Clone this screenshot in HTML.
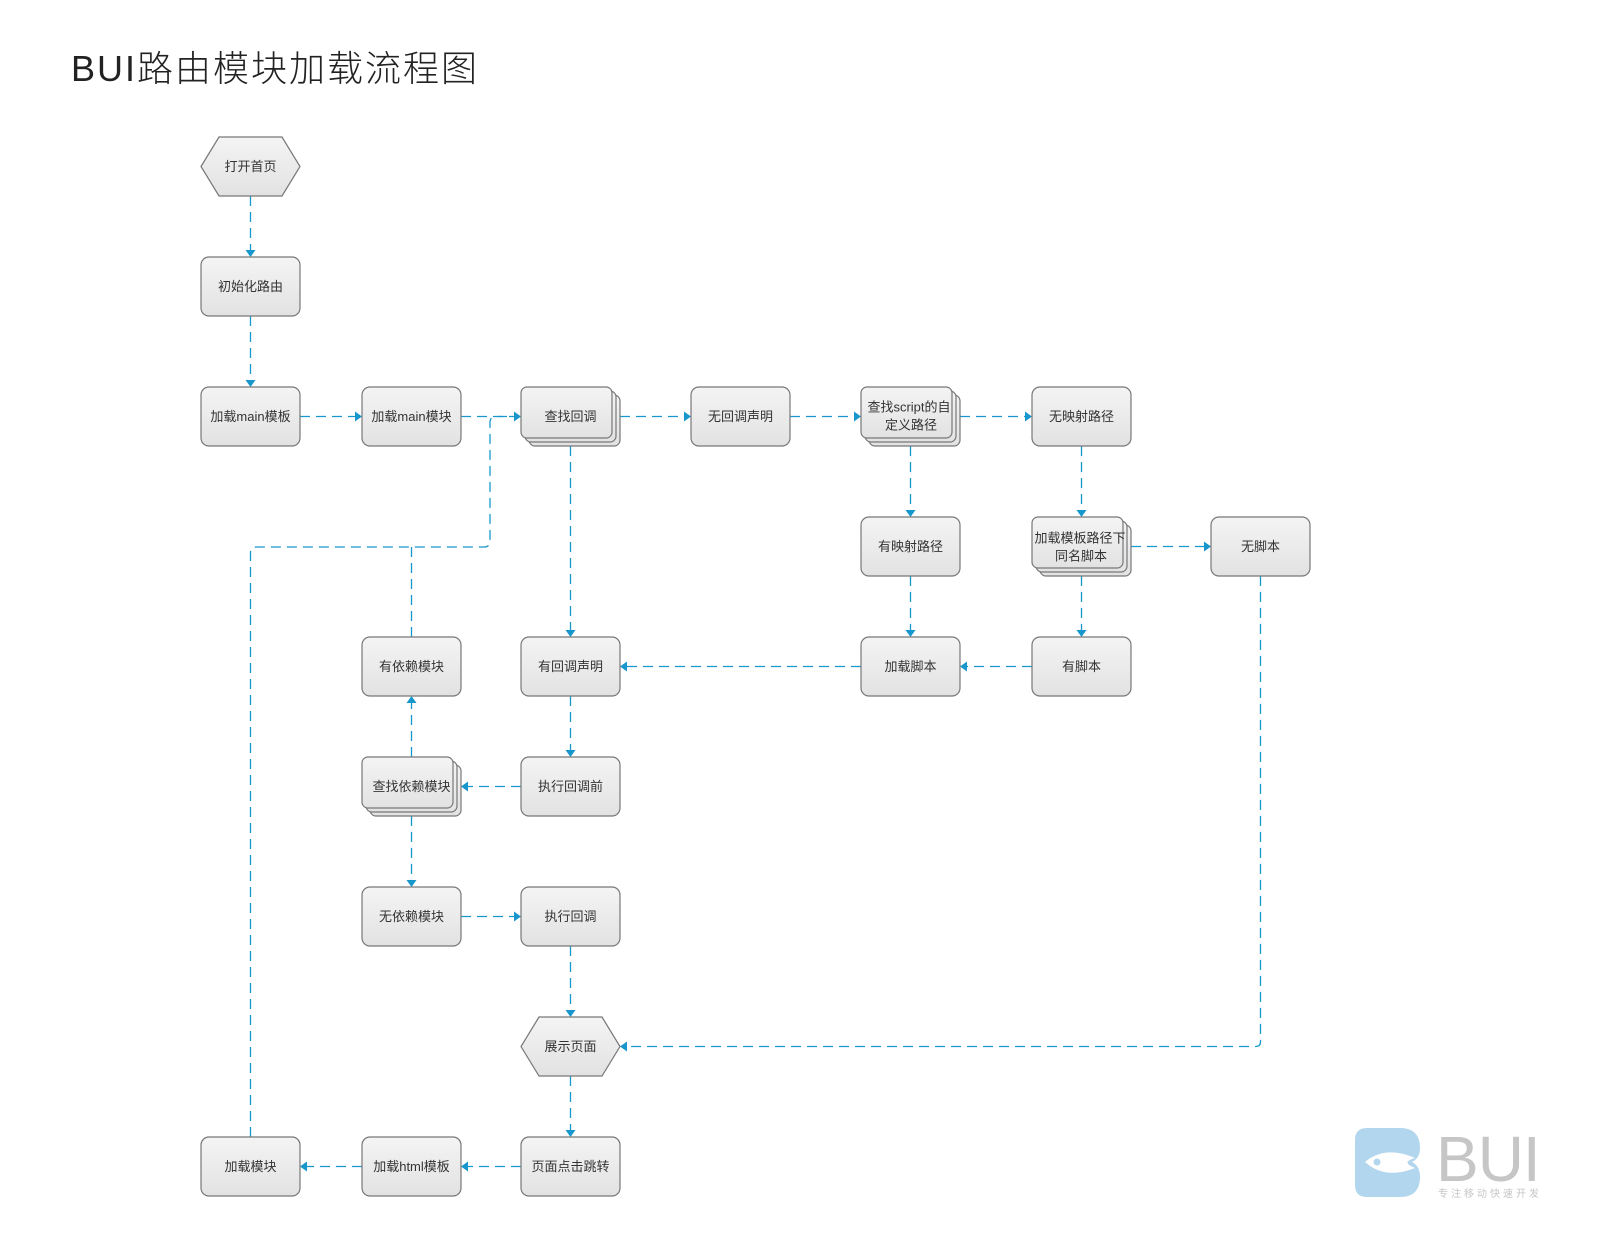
<!DOCTYPE html>
<html><head><meta charset="utf-8"><style>
html,body{margin:0;padding:0;background:#fff;width:1600px;height:1250px;overflow:hidden}
svg{display:block}
text{font-family:"Liberation Sans","Noto Sans CJK SC",sans-serif}
.n{font-size:13px;fill:#333;text-anchor:middle;dominant-baseline:central}
.b{stroke:#777;stroke-width:1.2}
.e{stroke:#1897cc;stroke-width:1.3;fill:none;stroke-dasharray:10 6}
.a{fill:#1897cc}
</style></head><body>
<svg width="1600" height="1250" viewBox="0 0 1600 1250" xmlns="http://www.w3.org/2000/svg">
<defs>
<linearGradient id="g" x1="0" y1="0" x2="0" y2="1"><stop offset="0" stop-color="#f4f4f4"/><stop offset="1" stop-color="#e2e2e2"/></linearGradient>
</defs>
<text x="71" y="81" style="font-size:36px;fill:#222;letter-spacing:2px;font-weight:300">BUI路由模块加载流程图</text>

<g>
<path class="e" d="M250.5 196V252"/><polygon class="a" points="245.5,250 250.5,257 255.5,250"/>
<path class="e" d="M250.5 316V382"/><polygon class="a" points="245.5,380 250.5,387 255.5,380"/>
<path class="e" d="M300 416.5H356"/><polygon class="a" points="355,411.5 362,416.5 355,421.5"/>
<path class="e" d="M461 416.5H515"/><polygon class="a" points="514,411.5 521,416.5 514,421.5"/>
<path class="e" d="M620 416.5H685"/><polygon class="a" points="684,411.5 691,416.5 684,421.5"/>
<path class="e" d="M790 416.5H855"/><polygon class="a" points="854,411.5 861,416.5 854,421.5"/>
<path class="e" d="M960 416.5H1026"/><polygon class="a" points="1025,411.5 1032,416.5 1025,421.5"/>
<path class="e" d="M910.5 446V512"/><polygon class="a" points="905.5,510 910.5,517 915.5,510"/>
<path class="e" d="M910.5 576V632"/><polygon class="a" points="905.5,630 910.5,637 915.5,630"/>
<path class="e" d="M1081.5 446V512"/><polygon class="a" points="1076.5,510 1081.5,517 1086.5,510"/>
<path class="e" d="M1081.5 576V632"/><polygon class="a" points="1076.5,630 1081.5,637 1086.5,630"/>
<path class="e" d="M1131 546.5H1205"/><polygon class="a" points="1204,541.5 1211,546.5 1204,551.5"/>
<path class="e" d="M1260.5 576V1041.5Q1260.5 1046.5 1255.5 1046.5H626"/><polygon class="a" points="627,1041.5 620,1046.5 627,1051.5"/>
<path class="e" d="M1032 666.5H966"/><polygon class="a" points="967,661.5 960,666.5 967,671.5"/>
<path class="e" d="M861 666.5H626"/><polygon class="a" points="627,661.5 620,666.5 627,671.5"/>
<path class="e" d="M570.5 446V632"/><polygon class="a" points="565.5,630 570.5,637 575.5,630"/>
<path class="e" d="M570.5 696V752"/><polygon class="a" points="565.5,750 570.5,757 575.5,750"/>
<path class="e" d="M521 786.5H467"/><polygon class="a" points="468,781.5 461,786.5 468,791.5"/>
<path class="e" d="M411.5 757V702"/><polygon class="a" points="406.5,703 411.5,696 416.5,703"/>
<path class="e" d="M411.5 816V882"/><polygon class="a" points="406.5,880 411.5,887 416.5,880"/>
<path class="e" d="M461 916.5H515"/><polygon class="a" points="514,911.5 521,916.5 514,921.5"/>
<path class="e" d="M570.5 946V1012"/><polygon class="a" points="565.5,1010 570.5,1017 575.5,1010"/>
<path class="e" d="M570.5 1076V1132"/><polygon class="a" points="565.5,1130 570.5,1137 575.5,1130"/>
<path class="e" d="M521 1166.5H467"/><polygon class="a" points="468,1161.5 461,1166.5 468,1171.5"/>
<path class="e" d="M362 1166.5H306"/><polygon class="a" points="307,1161.5 300,1166.5 307,1171.5"/>
<path class="e" d="M250.5 1137V553Q250.5 547 256.5 547H484Q490 547 490 541V422.5Q490 416.5 496 416.5H512"/>
<path class="e" d="M411.5 637V547"/>
</g>

<g fill="url(#g)">
<polygon class="b" points="201,166.5 219,137 282,137 300,166.5 282,196 219,196"/>
<text class="n" x="250.5" y="166.5">打开首页</text>
<rect class="b" x="201" y="257" width="99" height="59" rx="8"/><text class="n" x="250.5" y="286.5">初始化路由</text>
<rect class="b" x="201" y="387" width="99" height="59" rx="8"/><text class="n" x="250.5" y="416.5">加载main模板</text>
<rect class="b" x="362" y="387" width="99" height="59" rx="8"/><text class="n" x="411.5" y="416.5">加载main模块</text>
<rect class="b" x="529" y="395" width="91" height="51" rx="6"/><rect class="b" x="525" y="391" width="91" height="51" rx="6"/><rect class="b" x="521" y="387" width="91" height="51" rx="6"/>
<text class="n" x="570.5" y="416.5">查找回调</text>
<rect class="b" x="691" y="387" width="99" height="59" rx="8"/><text class="n" x="740.5" y="416.5">无回调声明</text>
<rect class="b" x="869" y="395" width="91" height="51" rx="6"/><rect class="b" x="865" y="391" width="91" height="51" rx="6"/><rect class="b" x="861" y="387" width="91" height="51" rx="6"/>
<text class="n" x="909" y="407">查找script的自</text><text class="n" x="911" y="425">定义路径</text>
<rect class="b" x="1032" y="387" width="99" height="59" rx="8"/><text class="n" x="1081.5" y="416.5">无映射路径</text>
<rect class="b" x="861" y="517" width="99" height="59" rx="8"/><text class="n" x="910.5" y="546.5">有映射路径</text>
<rect class="b" x="1040" y="525" width="91" height="51" rx="6"/><rect class="b" x="1036" y="521" width="91" height="51" rx="6"/><rect class="b" x="1032" y="517" width="91" height="51" rx="6"/>
<text class="n" x="1080" y="538">加载模板路径下</text><text class="n" x="1081" y="556">同名脚本</text>
<rect class="b" x="1211" y="517" width="99" height="59" rx="8"/><text class="n" x="1260.5" y="546.5">无脚本</text>
<rect class="b" x="362" y="637" width="99" height="59" rx="8"/><text class="n" x="411.5" y="666.5">有依赖模块</text>
<rect class="b" x="521" y="637" width="99" height="59" rx="8"/><text class="n" x="570.5" y="666.5">有回调声明</text>
<rect class="b" x="861" y="637" width="99" height="59" rx="8"/><text class="n" x="910.5" y="666.5">加载脚本</text>
<rect class="b" x="1032" y="637" width="99" height="59" rx="8"/><text class="n" x="1081.5" y="666.5">有脚本</text>
<rect class="b" x="370" y="765" width="91" height="51" rx="6"/><rect class="b" x="366" y="761" width="91" height="51" rx="6"/><rect class="b" x="362" y="757" width="91" height="51" rx="6"/>
<text class="n" x="411.5" y="786.5">查找依赖模块</text>
<rect class="b" x="521" y="757" width="99" height="59" rx="8"/><text class="n" x="570.5" y="786.5">执行回调前</text>
<rect class="b" x="362" y="887" width="99" height="59" rx="8"/><text class="n" x="411.5" y="916.5">无依赖模块</text>
<rect class="b" x="521" y="887" width="99" height="59" rx="8"/><text class="n" x="570.5" y="916.5">执行回调</text>
<polygon class="b" points="521,1046.5 539,1017 602,1017 620,1046.5 602,1076 539,1076"/>
<text class="n" x="570.5" y="1046.5">展示页面</text>
<rect class="b" x="201" y="1137" width="99" height="59" rx="8"/><text class="n" x="250.5" y="1166.5">加载模块</text>
<rect class="b" x="362" y="1137" width="99" height="59" rx="8"/><text class="n" x="411.5" y="1166.5">加载html模板</text>
<rect class="b" x="521" y="1137" width="99" height="59" rx="8"/><text class="n" x="570.5" y="1166.5">页面点击跳转</text>
</g>

<g>
<path d="M1355 1140Q1355 1128 1367 1128H1400Q1420 1128 1420 1148Q1420 1158 1412 1162Q1420 1166 1420 1177Q1420 1197 1400 1197H1367Q1355 1197 1355 1185Z" fill="#b3d6ef"/>
<path d="M1365 1162Q1385 1145 1415 1158Q1400 1162 1415 1168Q1385 1180 1365 1162Z" fill="#fff"/>
<circle cx="1377" cy="1162" r="3.5" fill="#b3d6ef"/>
<text x="1436" y="1181" style="font-size:64px;fill:#c6c6c6;letter-spacing:-1px">BUI</text>
<text x="1438" y="1197" style="font-size:10px;fill:#c6c6c6;letter-spacing:3px">专注移动快速开发</text>
</g>
</svg>
</body></html>
